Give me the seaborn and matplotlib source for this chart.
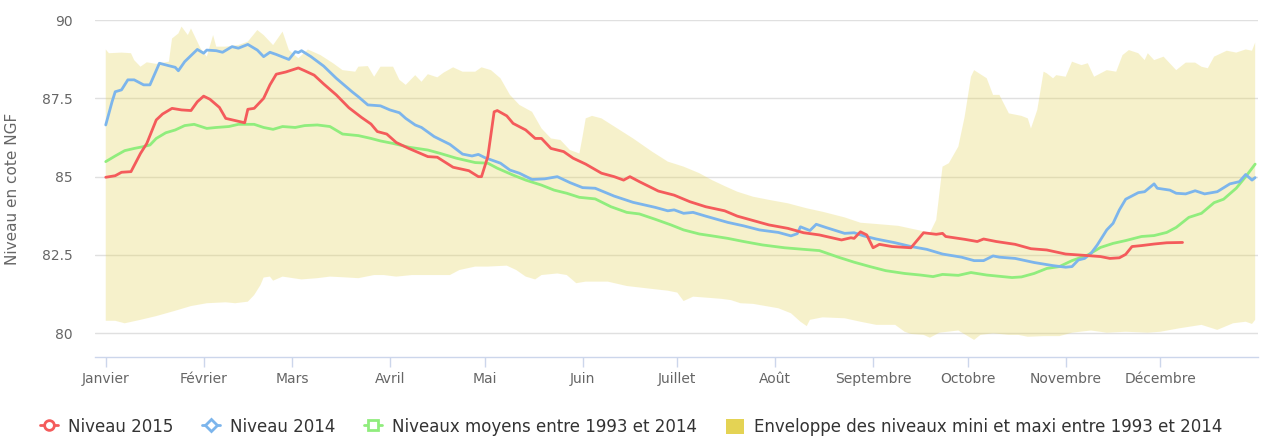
import matplotlib
matplotlib.use("Agg")
import matplotlib.pyplot as plt
from matplotlib.lines import Line2D
from matplotlib.patches import Patch
import seaborn as sns
import numpy as np

# Jour de l'année (0 = 1er janvier) et niveaux
jours_2015 = [0, 3, 5, 8, 11, 13, 16, 18, 21, 24, 27, 29, 31, 33, 36, 38, 41, 44, 45, 47,
              50, 52, 54, 57, 61, 63, 66, 69, 73, 77, 81, 84, 86, 89, 92, 96, 102, 105, 110, 115,
              118, 119, 121, 123, 124, 127, 129, 133, 136, 138, 141, 145, 148, 152, 157, 161, 164, 166, 169, 175,
              180, 185, 190, 196, 200, 205, 210, 216, 221, 226, 233, 236, 237, 239, 241, 243, 245, 249, 255, 259,
              263, 265, 266, 272, 276, 278, 282, 288, 293, 298, 304, 311, 315, 318, 321, 323, 325, 328, 332, 336, 341]
niveau_2015 = [84.98, 85.03, 85.14, 85.16, 85.74, 86.06, 86.81, 87.00, 87.18, 87.13, 87.11, 87.39, 87.57, 87.47, 87.21, 86.86, 86.79, 86.72, 87.15, 87.18,
               87.50, 87.93, 88.27, 88.34, 88.47, 88.38, 88.24, 87.96, 87.61, 87.20, 86.89, 86.68, 86.44, 86.36, 86.09, 85.90, 85.64, 85.62, 85.30, 85.19,
               85.00, 85.00, 85.64, 87.07, 87.11, 86.94, 86.70, 86.49, 86.22, 86.22, 85.90, 85.80, 85.59, 85.40, 85.11, 85.00, 84.89, 85.00, 84.84, 84.54,
               84.41, 84.20, 84.04, 83.91, 83.74, 83.60, 83.46, 83.35, 83.21, 83.14, 82.98, 83.05, 83.03, 83.24, 83.14, 82.73, 82.84, 82.77, 82.73, 83.21,
               83.16, 83.19, 83.09, 83.00, 82.93, 83.01, 82.93, 82.84, 82.70, 82.66, 82.53, 82.48, 82.45, 82.39, 82.41, 82.52, 82.77, 82.80, 82.85, 82.89, 82.90]

jours_2014 = [0, 2, 3, 5, 7, 9, 12, 14, 17, 20, 22, 23, 25, 29, 31, 32, 35, 37, 40, 42,
              45, 48, 50, 52, 54, 58, 60, 61, 62, 65, 69, 73, 78, 80, 83, 87, 90, 93, 95, 98,
              100, 104, 109, 113, 116, 118, 120, 125, 128, 131, 135, 139, 143, 147, 151, 155, 161, 167, 174, 178,
              180, 183, 186, 190, 197, 202, 207, 213, 217, 219, 220, 223, 225, 228, 234, 237, 240, 244, 250, 255,
              260, 265, 271, 275, 278, 281, 283, 288, 294, 300, 304, 306, 308, 310, 312, 314, 317, 319, 321, 323,
              327, 329, 332, 333, 337, 339, 342, 345, 348, 352, 356, 359, 361, 363, 364]
niveau_2014 = [86.65, 87.39, 87.71, 87.77, 88.09, 88.09, 87.93, 87.93, 88.62, 88.54, 88.49, 88.38, 88.67, 89.06, 88.94, 89.04, 89.02, 88.97, 89.15, 89.10,
               89.22, 89.04, 88.83, 88.97, 88.90, 88.74, 88.99, 88.96, 89.02, 88.83, 88.53, 88.14, 87.71, 87.55, 87.29, 87.26, 87.13, 87.04, 86.86, 86.65,
               86.57, 86.28, 86.03, 85.72, 85.66, 85.71, 85.61, 85.43, 85.21, 85.11, 84.91, 84.93, 85.00, 84.81, 84.65, 84.63, 84.38, 84.18, 84.02, 83.91,
               83.94, 83.83, 83.86, 83.74, 83.54, 83.43, 83.30, 83.22, 83.11, 83.18, 83.40, 83.28, 83.48, 83.38, 83.19, 83.21, 83.11, 83.01, 82.89, 82.77,
               82.68, 82.53, 82.43, 82.32, 82.32, 82.47, 82.43, 82.39, 82.26, 82.16, 82.11, 82.13, 82.34, 82.39, 82.55, 82.82, 83.30, 83.51, 83.94, 84.28,
               84.49, 84.52, 84.77, 84.63, 84.57, 84.47, 84.45, 84.55, 84.45, 84.52, 84.77, 84.84, 85.07, 84.89, 84.97]

jours_moy = [0, 3, 6, 9, 12, 14, 16, 19, 22, 25, 28, 32, 35, 39, 42, 47, 50, 53, 56, 60,
             63, 67, 71, 75, 80, 84, 87, 91, 96, 102, 106, 111, 117, 121, 124, 129, 133, 138, 142, 146,
             150, 155, 160, 165, 169, 174, 179, 183, 188, 192, 197, 202, 208, 215, 221, 226, 232, 237, 242, 247,
             253, 258, 262, 265, 270, 274, 279, 283, 287, 290, 294, 298, 302, 306, 311, 315, 319, 323, 328, 332,
             336, 339, 343, 347, 351, 354, 358, 361, 364]
niveau_moy = [85.48, 85.66, 85.83, 85.90, 85.96, 86.01, 86.22, 86.40, 86.49, 86.63, 86.67, 86.54, 86.57, 86.60, 86.67, 86.67, 86.57, 86.51, 86.60, 86.57,
              86.63, 86.65, 86.60, 86.36, 86.31, 86.22, 86.14, 86.06, 85.94, 85.85, 85.74, 85.59, 85.45, 85.43, 85.27, 85.05, 84.89, 84.73, 84.57, 84.47,
              84.34, 84.29, 84.04, 83.86, 83.81, 83.64, 83.46, 83.30, 83.17, 83.11, 83.03, 82.93, 82.82, 82.73, 82.68, 82.64, 82.43, 82.27, 82.13, 82.00,
              81.91, 81.86, 81.81, 81.88, 81.85, 81.94, 81.86, 81.82, 81.78, 81.80, 81.91, 82.07, 82.13, 82.32, 82.50, 82.74, 82.87, 82.96, 83.09, 83.12,
              83.22, 83.38, 83.70, 83.83, 84.17, 84.28, 84.63, 85.00, 85.40]

jours_max = [0, 1, 5, 8, 9, 11, 13, 16, 20, 21, 23, 24, 26, 27, 30, 32, 34, 35, 38, 42,
             45, 48, 50, 53, 56, 58, 61, 64, 68, 72, 75, 79, 80, 83, 85, 87, 91, 93, 95, 98,
             100, 102, 105, 107, 110, 113, 117, 119, 122, 125, 128, 131, 135, 138, 141, 144, 147, 150, 151, 152,
             154, 157, 162, 167, 173, 178, 183, 188, 192, 196, 200, 205, 210, 216, 222, 227, 234, 239, 244, 251,
             257, 261, 263, 265, 267, 270, 272, 274, 275, 279, 281, 283, 286, 290, 292, 293, 295, 297, 298, 300,
             301, 304, 306, 309, 311, 313, 317, 320, 322, 324, 327, 329, 330, 332, 335, 339, 342, 345, 347, 349,
             351, 355, 358, 361, 363, 364]
niveau_max = [89.06, 88.94, 88.96, 88.94, 88.72, 88.51, 88.65, 88.60, 88.67, 89.41, 89.57, 89.79, 89.52, 89.73, 89.10, 88.83, 89.52, 89.15, 89.15, 89.20,
              89.31, 89.68, 89.52, 89.20, 89.63, 89.04, 88.78, 89.06, 88.88, 88.62, 88.40, 88.35, 88.51, 88.53, 88.19, 88.51, 88.51, 88.09, 87.93, 88.24,
              88.03, 88.27, 88.17, 88.32, 88.49, 88.35, 88.35, 88.49, 88.40, 88.14, 87.61, 87.29, 87.07, 86.54, 86.22, 86.17, 85.85, 85.74, 86.28, 86.86,
              86.94, 86.86, 86.54, 86.22, 85.80, 85.48, 85.32, 85.11, 84.89, 84.70, 84.52, 84.36, 84.26, 84.15, 83.99, 83.88, 83.70, 83.53, 83.49, 83.43,
              83.30, 83.21, 83.62, 85.32, 85.43, 85.96, 86.91, 88.19, 88.40, 88.14, 87.61, 87.61, 87.02, 86.94, 86.86, 86.54, 87.13, 88.35, 88.30, 88.14,
              88.24, 88.19, 88.67, 88.56, 88.62, 88.19, 88.40, 88.35, 88.88, 89.04, 88.94, 88.72, 88.94, 88.72, 88.83, 88.40, 88.64, 88.64, 88.51, 88.46,
              88.83, 89.02, 88.96, 89.06, 89.02, 89.28]

jours_min = [0, 3, 6, 11, 16, 22, 27, 32, 38, 41, 45, 47, 49, 50, 52, 53, 56, 62, 67, 71,
             75, 80, 85, 88, 92, 97, 102, 109, 112, 117, 121, 127, 130, 133, 136, 138, 143, 146, 149, 152,
             159, 165, 171, 178, 181, 183, 186, 190, 195, 198, 201, 205, 213, 217, 220, 222, 223, 227, 234, 239,
             244, 250, 253, 255, 259, 261, 264, 270, 273, 275, 277, 281, 286, 289, 292, 297, 302, 306, 312, 317,
             323, 330, 334, 340, 347, 352, 357, 361, 363, 364]
niveau_min = [80.40, 80.40, 80.32, 80.43, 80.55, 80.72, 80.87, 80.96, 80.99, 80.96, 81.01, 81.22, 81.54, 81.78, 81.81, 81.68, 81.81, 81.72, 81.76, 81.81,
              81.79, 81.76, 81.86, 81.86, 81.81, 81.86, 81.86, 81.86, 82.02, 82.13, 82.13, 82.16, 82.02, 81.81, 81.72, 81.86, 81.91, 81.86, 81.60, 81.65,
              81.65, 81.51, 81.44, 81.36, 81.30, 81.03, 81.17, 81.14, 81.10, 81.06, 80.96, 80.94, 80.80, 80.64, 80.37, 80.23, 80.43, 80.51, 80.48, 80.37,
              80.27, 80.27, 80.05, 79.98, 79.95, 79.86, 80.02, 80.09, 79.91, 79.79, 79.95, 80.00, 79.95, 79.95, 79.89, 79.91, 79.91, 80.02, 80.09, 80.02,
              80.05, 80.02, 80.05, 80.16, 80.27, 80.11, 80.32, 80.37, 80.30, 80.43]

mois_jours = [0, 31, 59, 90, 120, 151, 181, 212, 243, 273, 304, 334]
mois_noms = ["Janvier", "Février", "Mars", "Avril", "Mai", "Juin", "Juillet", "Août",
             "Septembre", "Octobre", "Novembre", "Décembre"]
y_ticks = [80, 82.5, 85, 87.5, 90]
y_labels = ["80", "82.5", "85", "87.5", "90"]

c_2015 = "#f45b5b"
c_2014 = "#7cb5ec"
c_moy = "#90ed7d"
c_env = "#e4d354"

sns.set_style("white")
plt.rcParams["font.family"] = ["DejaVu Sans"]

fig = plt.figure(figsize=(12.62, 4.43), dpi=100)
ax = fig.add_axes([95 / 1262, 1 - 357 / 443, 1163 / 1262, 337 / 443])

# enveloppe min / max
env_x = np.r_[jours_max, jours_min[::-1]]
env_y = np.r_[niveau_max, niveau_min[::-1]]
ax.fill(env_x, env_y, color=c_env, alpha=0.3, lw=0, zorder=1)

sns.lineplot(x=jours_moy, y=niveau_moy, color=c_moy, linewidth=2, ax=ax, zorder=3)
sns.lineplot(x=jours_2014, y=niveau_2014, color=c_2014, linewidth=2, ax=ax, zorder=4)
sns.lineplot(x=jours_2015, y=niveau_2015, color=c_2015, linewidth=2, ax=ax, zorder=5)

ax.set_xlim(-3.4, 364.9)
ax.set_ylim(79.244, 90)

ax.set_yticks(y_ticks)
ax.set_yticklabels(y_labels)
ax.yaxis.grid(True, color="#e0e0e0", lw=1)
ax.xaxis.grid(False)
ax.set_axisbelow(True)
ax.tick_params(axis="y", length=0, pad=16, labelsize=10, labelcolor="#666666")

ax.set_xticks(mois_jours)
ax.set_xticklabels(mois_noms)
ax.tick_params(axis="x", direction="out", length=7, width=1, color="#ccd6eb",
               pad=4, labelsize=10, labelcolor="#666666", bottom=True)

for s in ["top", "left", "right"]:
    ax.spines[s].set_visible(False)
ax.spines["bottom"].set_color("#ccd6eb")
ax.spines["bottom"].set_linewidth(1)

ax.set_xlabel("")
ax.set_ylabel("Niveau en cote NGF", fontsize=11, color="#666666")
ax.yaxis.set_label_coords(-(95 - 20) / 1163, 0.5)

handles = [
    Line2D([], [], color=c_2015, lw=2, marker="o", markersize=7, markerfacecolor="white", markeredgewidth=2),
    Line2D([], [], color=c_2014, lw=2, marker="D", markersize=6, markerfacecolor="white", markeredgewidth=2),
    Line2D([], [], color=c_moy, lw=2, marker="s", markersize=7, markerfacecolor="white", markeredgewidth=2),
    Patch(facecolor=c_env, edgecolor="none"),
]
labels = ["Niveau 2015", "Niveau 2014", "Niveaux moyens entre 1993 et 2014",
          "Enveloppe des niveaux mini et maxi entre 1993 et 2014"]
leg = fig.legend(handles, labels, loc="center", bbox_to_anchor=(0.5, 1 - 427 / 443), ncol=4,
                 frameon=False, fontsize=12, handlelength=1.1, handleheight=1.0,
                 handletextpad=0.6, columnspacing=1.7, labelcolor="#333333")

fig.savefig("out.png", dpi=100)
